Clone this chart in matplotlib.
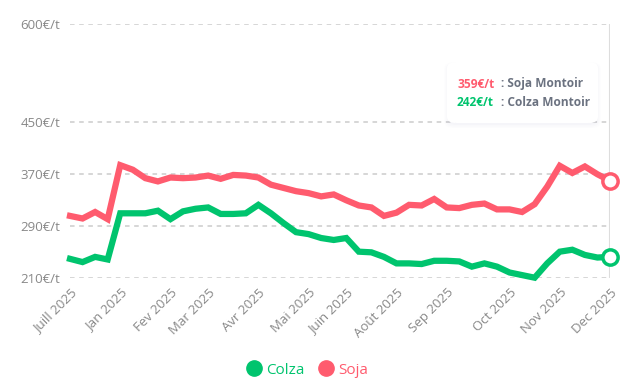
import matplotlib
matplotlib.use("Agg")
import matplotlib.pyplot as plt
from matplotlib.patches import FancyBboxPatch
from matplotlib.lines import Line2D

plt.rcParams['font.family'] = ['Open Sans', 'DejaVu Sans']

soja = [305, 301, 311, 300, 383, 376, 363, 358, 364, 363,
        364, 367, 362, 368, 367, 364, 353, 348, 343, 340,
        335, 338, 329, 321, 318, 305, 310, 322, 321, 331,
        318, 317, 322, 324, 315, 315, 311, 323, 350, 382,
        371, 381, 369, 359]
colza = [239, 234, 242, 238, 309, 309, 309, 313, 300, 312,
         316, 318, 308, 308, 309, 322, 309, 294, 280, 277,
         271, 268, 271, 250, 249, 242, 232, 232, 231, 236,
         236, 235, 227, 232, 227, 218, 214, 210, 232, 250,
         253, 245, 241, 242]
tick_idx = [0, 4, 8, 11, 15, 19, 22, 26, 30, 35, 39, 43]
tick_labels = ["Juill 2025", "Jan 2025", "Fev 2025", "Mar 2025", "Avr 2025",
               "Mai 2025", "Juin 2025", "Août 2025", "Sep 2025", "Oct 2025",
               "Nov 2025", "Dec 2025"]
y_ticks = [210, 290, 370, 450, 600]

RED = "#FF5B6E"
GREEN = "#00C46E"
GRAY = "#888888"

W, H = 628, 392
fig = plt.figure(figsize=(W / 100, H / 100), dpi=100)
ax = fig.add_axes([70 / W, (H - 277.7) / H, 540 / W, 253.7 / H])

x = list(range(len(soja)))
ax.set_xlim(0, len(soja) - 1)
ax.set_ylim(210, 600)

for v in y_ticks:
    ax.axhline(v, color="#cccccc", lw=1.1, ls=(0, (3, 3)), zorder=1)
ax.axvline(len(soja) - 1, color="#dddddd", lw=1.5, zorder=1)

ax.plot(x, soja, color=RED, lw=4.5, solid_joinstyle='miter', zorder=3, clip_on=False)
ax.plot(x, colza, color=GREEN, lw=4.5, solid_joinstyle='miter', zorder=3, clip_on=False)
ax.plot([x[-1]], [soja[-1]], 'o', ms=11, mfc='white', mec=RED, mew=2.5, zorder=4, clip_on=False)
ax.plot([x[-1]], [colza[-1]], 'o', ms=11, mfc='white', mec=GREEN, mew=2.5, zorder=4, clip_on=False)

for s in ax.spines.values():
    s.set_visible(False)
ax.set_yticks(y_ticks)
ax.set_yticklabels([f"{v}€/t" for v in y_ticks], color=GRAY, fontsize=9.5)
ax.set_xticks(tick_idx)
ax.set_xticklabels(tick_labels, rotation=45, ha='right', rotation_mode='anchor',
                   color=GRAY, fontsize=9.5)
ax.tick_params(axis='both', length=0)
ax.tick_params(axis='y', pad=7)
ax.tick_params(axis='x', pad=6)

# tooltip box
for i, a in enumerate([0.03, 0.025, 0.02]):
    sh = FancyBboxPatch((447 / W - i * 0.002, (H - 125 - i * 1.5) / H), 151 / W + i * 0.004, 61 / H + i * 0.006,
                        boxstyle="round,pad=0,rounding_size=0.015", transform=fig.transFigure,
                        facecolor="#8080c0", edgecolor='none', alpha=a, zorder=5)
    fig.add_artist(sh)
box = FancyBboxPatch((447 / W, (H - 123) / H), 151 / W, 61 / H,
                     boxstyle="round,pad=0,rounding_size=0.015", transform=fig.transFigure,
                     facecolor="white", edgecolor='none', zorder=6)
fig.add_artist(box)
fs_tt = 8.6
fig.text(457 / W, (H - 84) / H, f"{soja[-1]}€/t", color=RED, fontsize=fs_tt, fontweight='bold', va='center', zorder=7)
fig.text(501 / W, (H - 84) / H, ": Soja Montoir", color="#6b7280", fontsize=fs_tt, fontweight='bold', va='center', zorder=7)
fig.text(457 / W, (H - 103) / H, f"{colza[-1]}€/t", color=GREEN, fontsize=fs_tt, fontweight='bold', va='center', zorder=7)
fig.text(501 / W, (H - 103) / H, ": Colza Montoir", color="#6b7280", fontsize=fs_tt, fontweight='bold', va='center', zorder=7)

# legend
handles = [Line2D([], [], marker='o', ls='none', color=GREEN, ms=11),
           Line2D([], [], marker='o', ls='none', color=RED, ms=11)]
leg = fig.legend(handles, ["Colza", "Soja"], loc='center', bbox_to_anchor=(307 / W, (H - 370) / H),
                 ncol=2, frameon=False, fontsize=11, handletextpad=0.3, columnspacing=0.9,
                 handlelength=1.0)
for t, c in zip(leg.get_texts(), [GREEN, RED]):
    t.set_color(c)

fig.savefig("out.png", dpi=100, facecolor="white")
